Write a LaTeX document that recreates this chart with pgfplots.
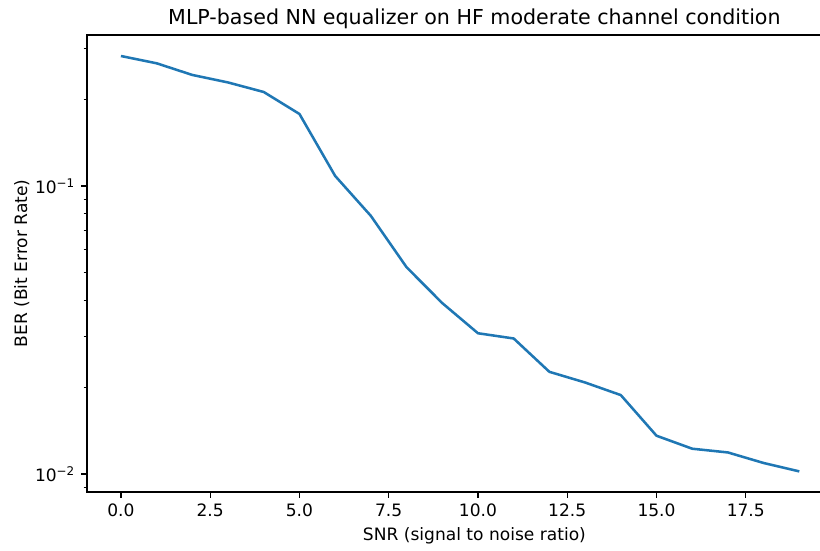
\documentclass[border=0pt]{standalone}
\usepackage{fontspec}
\setmainfont{DejaVu Sans}
\usepackage{pgfplots}
\pgfplotsset{compat=1.18}
\definecolor{mplblue}{HTML}{1F77B4}
\begin{document}
\begin{tikzpicture}
\begin{axis}[
  at={(0pt,0pt)}, anchor=south west,
  scale only axis,
  width=550.3pt, height=342.75pt,
  ymode=log,
  xmin=-0.95, xmax=19.6,
  ymin=0.00866, ymax=0.334,
  axis line style={line width=1pt, black},
  tick align=outside,
  xtick pos=left, ytick pos=left,
  xtick={0,2.5,5,7.5,10,12.5,15,17.5},
  xticklabels={0.0,2.5,5.0,7.5,10.0,12.5,15.0,17.5},
  ytick={0.01,0.1},
  yticklabels={10\textsuperscript{−2},10\textsuperscript{−1}},
  minor ytick={0.009,0.02,0.03,0.04,0.05,0.06,0.07,0.08,0.09,0.2,0.3},
  major tick length=4.4pt,
  minor tick length=2.5pt,
  every major tick/.append style={line width=1pt, black},
  every minor tick/.append style={line width=0.75pt, black},
  tick label style={font=\fontsize{12.8pt}{15pt}\selectfont, inner sep=0pt},
  xticklabel style={anchor=north, yshift=-4.4pt},
  yticklabel style={anchor=east, xshift=-4.4pt},
  label style={font=\fontsize{12.8pt}{15pt}\selectfont},
  xlabel={SNR (signal to noise ratio)},
  ylabel={BER (Bit Error Rate)},
  xlabel style={at={(axis description cs:0.528,0)}, anchor=base, inner sep=0pt, yshift=-36.3pt},
  ylabel style={at={(axis description cs:0,0.5)}, anchor=center, rotate=0, yshift=49pt},
  title={MLP-based NN equalizer on HF moderate channel condition},
  title style={at={(axis description cs:0.528,1)}, anchor=base, inner sep=0pt, yshift=1.5pt, font=\fontsize{15.45pt}{18pt}\selectfont},
]
\addplot[color=mplblue, line width=1.9pt, line join=round] coordinates {
 (0,0.2824) (1,0.2664) (2,0.2427) (3,0.2286) (4,0.2118) (5,0.1777)
 (6,0.1083) (7,0.0787) (8,0.0522) (9,0.0392) (10,0.0308) (11,0.02954)
 (12,0.02263) (13,0.02078) (14,0.01879) (15,0.01358) (16,0.01224)
 (17,0.01188) (18,0.01092) (19,0.01021)
};
\end{axis}
\pgfresetboundingbox
\path[use as bounding box] (-65.25pt,-43.5pt) rectangle (549.75pt,369pt);
\end{tikzpicture}
\end{document}
